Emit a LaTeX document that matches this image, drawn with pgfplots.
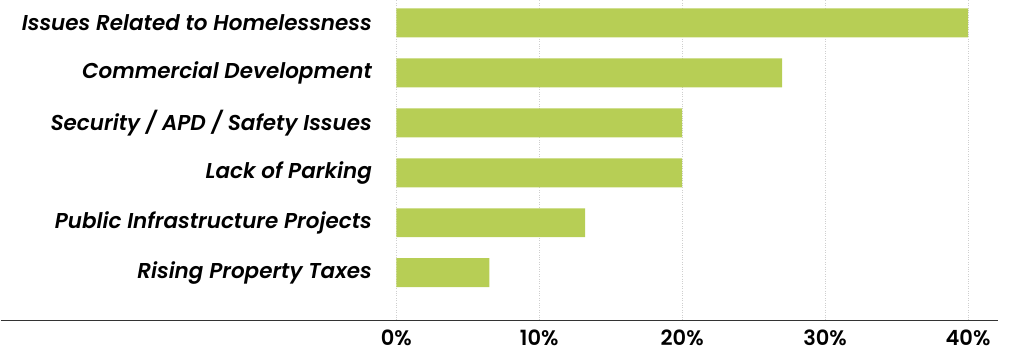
\documentclass[border=0pt]{standalone}
\usepackage{fontspec}
\setmainfont{Poppins}
\newfontfamily\labelfont{Poppins}[UprightFont=* SemiBold, ItalicFont=* SemiBold Italic, BoldFont=* SemiBold, BoldItalicFont=* SemiBold Italic]
\usepackage{pgfplots}
\pgfplotsset{compat=1.18}
\definecolor{bargreen}{HTML}{B7CE55}
\definecolor{gridgray}{HTML}{CFCFCF}
\definecolor{axisgray}{HTML}{333333}
\begin{document}
\begin{tikzpicture}
\begin{axis}[
  scale only axis,
  width=634pt, height=320pt,
  xmin=0, xmax=44.33,
  ymin=-0.45, ymax=5.95,
  y dir=reverse,
  xbar, bar width=29pt,
  axis line style={draw=none},
  xtick={0,10,20,30,40},
  xticklabels={0\%,10\%,20\%,30\%,40\%},
  ytick={0,1,2,3,4,5},
  yticklabels={Issues Related to Homelessness,Commercial Development,Security / APD / Safety Issues,Lack of Parking,Public Infrastructure Projects,Rising Property Taxes},
  major tick length=0pt,
  xmajorgrids,
  grid style={gridgray, dotted, line width=0.8pt},
  yticklabel style={font=\fontsize{21.5}{24}\labelfont\itshape, anchor=east, xshift=-21pt},
  xticklabel style={font=\fontsize{21}{24}\labelfont, anchor=north, yshift=-6pt},
  /pgf/number format/assume math mode=true,
  clip=false,
]
\addplot[fill=bargreen, draw=none] coordinates {
  (40,0) (27,1) (20,2) (20,3) (13.2,4) (6.5,5)
};
\draw[axisgray, line width=1.3pt] ([xshift=-396pt]rel axis cs:0,0) -- ([xshift=-32pt]rel axis cs:1,0);
\end{axis}
\useasboundingbox (-396pt,-34pt) rectangle (634pt,320pt);
\end{tikzpicture}
\end{document}
